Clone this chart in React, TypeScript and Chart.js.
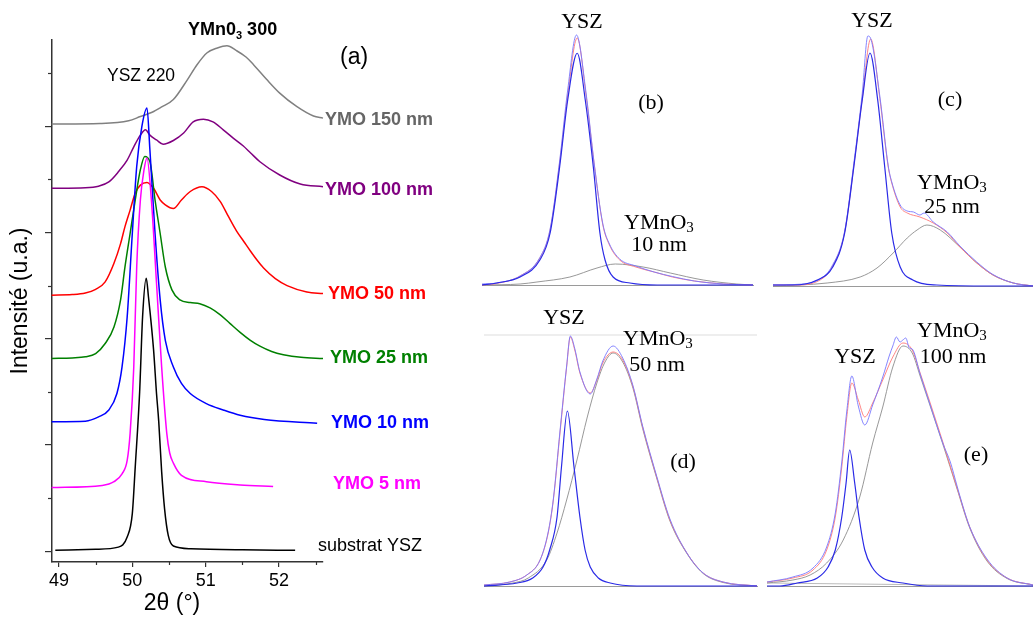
import React, { useEffect, useRef } from "react";
import { Chart, registerables } from "chart.js";
Chart.register(...registerables);

const SANS = "'Liberation Sans', Arial, sans-serif";
const SERIF = "'Liberation Serif', 'Times New Roman', serif";

// ---------- Panel (a) ticks ----------
const X_MAJOR = [49, 50, 51, 52];
const X_MINOR = [49.5, 50.5, 51.5, 52.5];
const Y_MAJOR = [0, 2, 4, 6, 8];
const Y_MINOR = [1, 3, 5, 7, 9];

// ---------- Panel (a) series (2θ, intensity u.a.) ----------
const SUB_X = [48.95, 49.5, 49.81, 49.93, 50.0, 50.04, 50.1, 50.14, 50.19, 50.22, 50.29, 50.33, 50.36, 50.4, 50.44, 50.49, 50.56, 50.8, 51.5, 52.22];
const SUB_Y = [0.02, 0.04, 0.08, 0.27, 0.71, 1.59, 3.0, 4.41, 5.14, 4.79, 3.79, 2.97, 2.45, 1.5, 0.8, 0.3, 0.1, 0.05, 0.03, 0.02];

const M5_X = [48.9, 49.59, 49.75, 49.86, 49.93, 49.97, 50.02, 50.06, 50.11, 50.16, 50.2, 50.26, 50.33, 50.4, 50.47, 50.51, 50.56, 50.67, 51.01, 51.47, 51.92];
const M5_Y = [1.2, 1.24, 1.31, 1.46, 1.71, 2.22, 3.47, 5.35, 6.61, 7.18, 7.4, 6.61, 5.05, 3.47, 2.22, 1.85, 1.66, 1.43, 1.31, 1.25, 1.22];

const M10_X = [48.9, 49.36, 49.54, 49.68, 49.79, 49.86, 49.93, 50.0, 50.06, 50.13, 50.2, 50.24, 50.31, 50.38, 50.45, 50.56, 50.67, 50.79, 51.01, 51.24, 51.47, 51.8, 52.52];
const M10_Y = [2.44, 2.45, 2.53, 2.66, 2.97, 3.47, 4.41, 5.98, 7.24, 7.99, 8.34, 7.55, 5.98, 4.73, 3.97, 3.47, 3.16, 2.97, 2.78, 2.66, 2.56, 2.48, 2.41];

const M25_X = [48.9, 49.18, 49.36, 49.5, 49.63, 49.75, 49.84, 49.9, 49.97, 50.04, 50.11, 50.17, 50.24, 50.31, 50.38, 50.45, 50.54, 50.65, 50.79, 50.92, 51.06, 51.2, 51.33, 51.47, 51.61, 51.74, 51.9, 52.06, 52.3, 52.6];
const M25_Y = [3.63, 3.64, 3.66, 3.72, 3.91, 4.22, 4.73, 5.35, 5.98, 6.61, 7.18, 7.43, 7.33, 6.61, 5.98, 5.35, 4.92, 4.73, 4.68, 4.66, 4.58, 4.45, 4.29, 4.12, 3.97, 3.86, 3.76, 3.7, 3.65, 3.63];

const M50_X = [48.9, 49.18, 49.36, 49.5, 49.63, 49.75, 49.84, 49.9, 49.97, 50.04, 50.11, 50.2, 50.29, 50.38, 50.45, 50.56, 50.67, 50.79, 50.95, 51.08, 51.2, 51.31, 51.42, 51.52, 51.61, 51.7, 51.79, 51.95, 52.11, 52.38, 52.6];
const M50_Y = [4.82, 4.83, 4.86, 4.93, 5.07, 5.42, 5.79, 6.11, 6.42, 6.74, 6.89, 6.94, 6.83, 6.61, 6.52, 6.45, 6.61, 6.77, 6.86, 6.77, 6.58, 6.3, 6.03, 5.83, 5.65, 5.48, 5.33, 5.13, 5.0, 4.88, 4.85];

const M100_X = [48.9, 49.36, 49.54, 49.68, 49.81, 49.93, 50.02, 50.11, 50.18, 50.24, 50.33, 50.42, 50.56, 50.7, 50.83, 50.97, 51.1, 51.24, 51.38, 51.51, 51.61, 51.74, 52.01, 52.29, 52.6];
const M100_Y = [6.83, 6.84, 6.87, 6.95, 7.14, 7.36, 7.61, 7.83, 7.93, 7.83, 7.74, 7.66, 7.73, 7.87, 8.08, 8.13, 8.08, 7.93, 7.77, 7.63, 7.5, 7.33, 7.08, 6.91, 6.86];

const M150_X = [48.9, 49.56, 49.95, 50.11, 50.27, 50.4, 50.56, 50.75, 50.88, 51.02, 51.16, 51.29, 51.42, 51.55, 51.65, 51.83, 52.01, 52.24, 52.47, 52.6];
const M150_Y = [8.04, 8.05, 8.1, 8.18, 8.26, 8.36, 8.5, 8.87, 9.15, 9.38, 9.47, 9.51, 9.42, 9.3, 9.16, 8.88, 8.62, 8.37, 8.19, 8.15];

// ---------- Panel (b): 10 nm ----------
const B_FIT_X = [48.9, 49.1, 49.42, 49.69, 49.83, 49.96, 50.07, 50.2, 50.31, 50.42, 50.51, 50.58, 50.69, 50.92, 51.29, 52.6];
const B_FIT_Y = [0, 0.8, 3.2, 10, 20.8, 47.2, 74, 92.7, 74, 47.2, 20.8, 10, 3.2, 0.8, 0, 0];
const B_TOT_X = [48.9, 49.1, 49.42, 49.69, 49.83, 49.96, 50.07, 50.2, 50.32, 50.43, 50.55, 50.64, 50.78, 51.0, 51.25, 51.5, 51.8, 52.2, 52.6];
const B_TOT_Y = [0, 0.6, 3.6, 10.8, 22, 48.8, 76, 98.8, 76, 48.8, 24, 16, 10, 7.2, 5.2, 3.2, 1.6, 0.4, 0];
const B_DAT_X = [48.9, 49.1, 49.42, 49.69, 49.83, 49.96, 50.07, 50.19, 50.32, 50.43, 50.55, 50.64, 50.78, 51.0, 51.25, 51.5, 51.8, 52.2, 52.6];
const B_DAT_Y = [0.4, 0.8, 3.6, 11, 22.4, 49.6, 78, 100, 77, 49, 24.4, 16.4, 10.4, 7.6, 5.2, 3.4, 1.6, 0.4, 0];
const B_YMN_X = [48.9, 49.42, 49.65, 50.1, 50.47, 50.72, 51.1, 51.47, 51.92, 52.38, 52.6];
const B_YMN_Y = [0, 0.4, 1.2, 3.2, 6.8, 8.4, 7.2, 4.8, 2, 0.4, 0];

// ---------- Panel (c): 25 nm ----------
const C_FIT_X = [48.9, 49.18, 49.53, 49.75, 49.92, 50.05, 50.17, 50.28, 50.39, 50.49, 50.59, 50.71, 50.89, 51.23, 51.99, 52.6];
const C_FIT_Y = [0.4, 0.4, 2.4, 7.6, 21.2, 47.6, 74.4, 93.2, 74.4, 47.6, 21.2, 7.6, 2.4, 0.4, 0, 0];
const C_TOT_X = [48.9, 49.21, 49.57, 49.74, 49.92, 50.05, 50.17, 50.29, 50.42, 50.54, 50.59, 50.71, 50.81, 50.99, 51.18, 51.38, 51.56, 51.8, 52.03, 52.32, 52.6];
const C_TOT_Y = [0.4, 0.4, 2.4, 7.6, 21.6, 48, 75, 98.8, 75, 47.6, 41.2, 31.6, 29.2, 27.6, 25.2, 21.2, 15.6, 9.2, 4.4, 1.2, 0];
const C_DAT_X = [48.9, 49.21, 49.57, 49.74, 49.92, 50.05, 50.17, 50.25, 50.29, 50.42, 50.54, 50.59, 50.71, 50.81, 50.9, 50.99, 51.05, 51.18, 51.38, 51.56, 51.8, 52.03, 52.32, 52.6];
const C_DAT_Y = [0.4, 0.6, 2.8, 8, 22, 49, 77, 100, 99, 76, 48, 41.6, 32.4, 30, 29.6, 28.4, 29.2, 25.6, 21.6, 16, 9.6, 4.6, 1.2, 0];
const C_YMN_X = [48.9, 49.67, 50.14, 50.38, 50.61, 50.81, 50.95, 51.09, 51.28, 51.56, 51.8, 52.03, 52.32, 52.6];
const C_YMN_Y = [0, 1.2, 3.6, 7.2, 13.2, 19.2, 22.4, 24.4, 22.4, 15.6, 9.2, 4.4, 1.2, 0];

// ---------- Panel (d): 50 nm ----------
const D_FIT_X = [48.9, 49.35, 49.56, 49.7, 49.79, 49.89, 49.95, 50.03, 50.12, 50.2, 50.27, 50.34, 50.45, 50.61, 50.97, 52.6];
const D_FIT_Y = [0, 1.2, 3.2, 7.6, 14.4, 27.6, 47.6, 70, 47.6, 27.6, 14.4, 7.6, 3.2, 1.2, 0, 0];
const D_TOT_X = [48.9, 49.25, 49.48, 49.66, 49.77, 49.84, 49.93, 50.02, 50.07, 50.13, 50.2, 50.34, 50.43, 50.51, 50.65, 50.78, 50.92, 51.05, 51.24, 51.42, 51.65, 51.87, 52.14, 52.6];
const D_TOT_Y = [0.4, 1.6, 4.4, 10.4, 21.2, 34.4, 61.2, 87.6, 99.6, 94.4, 85.2, 77.2, 82.4, 89.2, 93.6, 90.4, 79.6, 63.6, 43.6, 26.4, 13.2, 5.2, 1.6, 0];
const D_DAT_Y = [0.4, 1.6, 4.4, 10.4, 21.6, 34.8, 62, 88, 100, 95, 85.6, 76.8, 82.8, 90, 96, 91.2, 80, 64, 44, 26.8, 13.2, 5.2, 1.6, 0];
const D_YMN_X = [48.9, 49.29, 49.5, 49.75, 49.89, 50.02, 50.16, 50.3, 50.43, 50.54, 50.65, 50.78, 50.92, 51.05, 51.24, 51.42, 51.65, 51.87, 52.14, 52.6];
const D_YMN_Y = [0, 1.2, 3.2, 10.4, 21.2, 34.4, 50.4, 67.6, 81.2, 89.6, 93.2, 89.6, 79, 63, 43.2, 26, 13, 5, 1.4, 0];
const D_FRAME_X = [48.9, 52.6];
const D_FRAME_Y = [100.4, 100.4];

// ---------- Panel (e): 100 nm ----------
const E_FIT_X = [48.9, 49.08, 49.32, 49.6, 49.75, 49.85, 49.94, 50.0, 50.05, 50.12, 50.18, 50.26, 50.36, 50.51, 50.79, 51.13, 52.6];
const E_FIT_Y = [0, 0, 1.2, 3.2, 7.6, 14.4, 27.6, 41.2, 54.4, 41.2, 27.6, 14.4, 7.6, 3.2, 1.2, 0, 0];
const E_TOT_X = [48.9, 49.26, 49.54, 49.73, 49.85, 49.94, 50.01, 50.08, 50.17, 50.26, 50.37, 50.51, 50.65, 50.79, 50.92, 51.03, 51.17, 51.35, 51.54, 51.72, 51.96, 52.24, 52.6];
const E_TOT_Y = [1.6, 3.2, 6.4, 14.4, 27.6, 47.6, 67.6, 81.2, 74.4, 67.6, 73.2, 82.4, 91.6, 97.2, 94.4, 85.2, 73.2, 57.2, 39.6, 23.6, 10.4, 3.2, 0.4];
const E_DAT_X = [48.9, 49.26, 49.54, 49.73, 49.85, 49.94, 50.01, 50.08, 50.17, 50.26, 50.37, 50.51, 50.6, 50.65, 50.7, 50.75, 50.79, 50.83, 50.88, 50.92, 51.03, 51.17, 51.35, 51.45, 51.54, 51.62, 51.72, 51.96, 52.24, 52.6];
const E_DAT_Y = [1.6, 3.6, 7.2, 15.6, 29.2, 49.6, 70, 84, 72, 64.4, 72.4, 83.6, 92, 96, 99.6, 97.6, 98.4, 99.2, 95.2, 94.8, 84.8, 72.4, 56.8, 49.6, 40.4, 32.4, 23.6, 10.8, 3.2, 0.4];
const E_YMN_X = [48.9, 49.26, 49.5, 49.73, 49.96, 50.19, 50.37, 50.51, 50.65, 50.79, 50.92, 51.03, 51.17, 51.35, 51.54, 51.72, 51.96, 52.24, 52.6];
const E_YMN_Y = [1.2, 2.4, 4.4, 9.2, 18.4, 35.6, 57.2, 71.6, 87.6, 96, 93.2, 84, 72, 56.4, 39.2, 23.2, 10, 3, 0.4];
const E_BG_X = [48.9, 52.6];
const E_BG_Y = [1.2, 0];

// ---------- helpers ----------
const pts = (xs: number[], ys: number[]) => xs.map((x, i) => ({ x, y: ys[i] }));

type Part = { t: string; font: string; color?: string; dy?: number };
type Label = { x: number; y: number; align?: "left" | "center"; parts: Part[] };

function drawLabels(ctx: CanvasRenderingContext2D, labels: Label[]) {
  for (const l of labels) {
    ctx.save();
    ctx.textBaseline = "middle";
    ctx.textAlign = "left";
    let total = 0;
    for (const p of l.parts) {
      ctx.font = p.font;
      total += ctx.measureText(p.t).width;
    }
    let x = l.align === "center" ? l.x - total / 2 : l.x;
    for (const p of l.parts) {
      ctx.font = p.font;
      ctx.fillStyle = p.color || "#000";
      ctx.fillText(p.t, x, l.y + (p.dy || 0));
      x += ctx.measureText(p.t).width;
    }
    ctx.restore();
  }
}

const textPlugin = (labels: Label[]) => ({
  id: "texts",
  afterDraw(chart: any) {
    drawLabels(chart.ctx, labels);
  },
});

const minorTicksPlugin = {
  id: "minorTicks",
  afterDraw(chart: any) {
    const { ctx, chartArea } = chart;
    const xs = chart.scales.x;
    const ys = chart.scales.y;
    ctx.save();
    ctx.strokeStyle = "#333";
    ctx.lineWidth = 1.2;
    Y_MINOR.forEach((v) => {
      const py = Math.round(ys.getPixelForValue(v)) + 0.5;
      ctx.beginPath();
      ctx.moveTo(chartArea.left - 4, py);
      ctx.lineTo(chartArea.left, py);
      ctx.stroke();
    });
    X_MINOR.forEach((v) => {
      const px = Math.round(xs.getPixelForValue(v)) + 0.5;
      ctx.beginPath();
      ctx.moveTo(px, chartArea.bottom);
      ctx.lineTo(px, chartArea.bottom + 3);
      ctx.stroke();
    });
    ctx.restore();
  },
};

function ChartCanvas({ left, top, width, height, makeConfig }: any) {
  const ref = useRef<HTMLCanvasElement>(null);
  useEffect(() => {
    const chart = new Chart(ref.current as HTMLCanvasElement, makeConfig());
    return () => chart.destroy();
  }, []);
  return (
    <canvas
      ref={ref}
      width={width}
      height={height}
      style={{ position: "absolute", left, top, width, height }}
    />
  );
}

// ---------- Panel (a) config ----------
const SERIES_A = [
  { label: "substrat YSZ", xs: SUB_X, ys: SUB_Y, color: "#000000" },
  { label: "YMO 5 nm", xs: M5_X, ys: M5_Y, color: "#ff00ff" },
  { label: "YMO 10 nm", xs: M10_X, ys: M10_Y, color: "#0000ff" },
  { label: "YMO 25 nm", xs: M25_X, ys: M25_Y, color: "#008000" },
  { label: "YMO 50 nm", xs: M50_X, ys: M50_Y, color: "#ff0000" },
  { label: "YMO 100 nm", xs: M100_X, ys: M100_Y, color: "#800080" },
  { label: "YMO 150 nm", xs: M150_X, ys: M150_Y, color: "#808080" },
];

const bold18 = `bold 18px ${SANS}`;
const LABELS_A: Label[] = [
  { x: 325, y: 120, parts: [{ t: "YMO 150 nm", font: bold18, color: "#666666" }] },
  { x: 325, y: 190, parts: [{ t: "YMO 100 nm", font: bold18, color: "#800080" }] },
  { x: 328, y: 294, parts: [{ t: "YMO 50 nm", font: bold18, color: "#ff0000" }] },
  { x: 330, y: 358, parts: [{ t: "YMO 25 nm", font: bold18, color: "#008000" }] },
  { x: 331, y: 423, parts: [{ t: "YMO 10 nm", font: bold18, color: "#0000ff" }] },
  { x: 333, y: 484, parts: [{ t: "YMO 5 nm", font: bold18, color: "#ff00ff" }] },
  { x: 318, y: 546, parts: [{ t: "substrat YSZ", font: `18px ${SANS}` }] },
  { x: 107, y: 76, parts: [{ t: "YSZ 220", font: `17.5px ${SANS}` }] },
  {
    x: 188,
    y: 30,
    parts: [
      { t: "YMn0", font: bold18 },
      { t: "3", font: `bold 11px ${SANS}`, dy: 6 },
      { t: " 300", font: bold18 },
    ],
  },
  { x: 340, y: 58, parts: [{ t: "(a)", font: `23px ${SANS}` }] },
  { x: 172, y: 604, align: "center", parts: [{ t: "2θ (°)", font: `23px ${SANS}` }] },
];

const makeConfigA = () => ({
  type: "line",
  data: {
    datasets: SERIES_A.map((s) => ({
      label: s.label,
      data: pts(s.xs, s.ys),
      borderColor: s.color,
      borderWidth: 1.5,
      pointRadius: 0,
      fill: false,
      cubicInterpolationMode: "monotone",
      clip: false,
    })),
  },
  options: {
    responsive: false,
    animation: false,
    devicePixelRatio: 1,
    layout: { padding: { top: 40, right: 147, left: 0, bottom: 0 } },
    plugins: { legend: { display: false }, tooltip: { enabled: false } },
    scales: {
      x: {
        type: "linear",
        min: 48.905,
        max: 52.6,
        afterBuildTicks: (s: any) => {
          s.ticks = X_MAJOR.map((v) => ({ value: v }));
        },
        afterFit: (s: any) => {
          s.height = 57;
        },
        ticks: {
          font: { family: SANS, size: 18 },
          color: "#000",
          padding: 3,
          maxRotation: 0,
          autoSkip: false,
          callback: (v: any) => String(v),
        },
        grid: { drawOnChartArea: false, tickLength: 5, color: "#333", lineWidth: 1.2 },
        border: { color: "#333", width: 1.5 },
      },
      y: {
        type: "linear",
        min: -0.2,
        max: 9.62,
        afterBuildTicks: (s: any) => {
          s.ticks = Y_MAJOR.map((v) => ({ value: v }));
        },
        afterFit: (s: any) => {
          s.width = 52;
        },
        ticks: { display: false },
        grid: { drawOnChartArea: false, tickLength: 7, color: "#333", lineWidth: 1.2 },
        border: { color: "#333", width: 1.5 },
        title: {
          display: true,
          text: "Intensité (u.a.)",
          color: "#000",
          font: { family: SANS, size: 23 },
          padding: { top: 7, bottom: 0 },
        },
      },
    },
  },
  plugins: [minorTicksPlugin, textPlugin(LABELS_A)],
});

// ---------- small panels ----------
const serif22 = `22px ${SERIF}`;
const ymno = (x: number, y: number): Label => ({
  x,
  y,
  parts: [
    { t: "YMnO", font: serif22 },
    { t: "3", font: `15px ${SERIF}`, dy: 5 },
  ],
});
const ctext = (x: number, y: number, t: string): Label => ({
  x,
  y,
  align: "center",
  parts: [{ t, font: serif22 }],
});

type Extra = { xs: number[]; ys: number[]; color: string; width: number };
type Panel = {
  left: number;
  top: number;
  width: number;
  height: number;
  pad: { left: number; right: number; top: number; bottom: number };
  fit: [number[], number[]];
  dat: [number[], number[]];
  tot: [number[], number[]];
  ymn: [number[], number[]];
  extras: Extra[];
  labels: Label[];
};

const PANELS: Panel[] = [
  {
    left: 470, top: 0, width: 290, height: 300,
    pad: { left: 12, right: 7, top: 35, bottom: 15 },
    fit: [B_FIT_X, B_FIT_Y], dat: [B_DAT_X, B_DAT_Y], tot: [B_TOT_X, B_TOT_Y], ymn: [B_YMN_X, B_YMN_Y],
    extras: [],
    labels: [ctext(112, 22, "YSZ"), ctext(181, 103, "(b)"), ymno(154, 223), ctext(189, 245, "10 nm")],
  },
  {
    left: 760, top: 0, width: 273, height: 300,
    pad: { left: 13, right: 0, top: 36, bottom: 14 },
    fit: [C_FIT_X, C_FIT_Y], dat: [C_DAT_X, C_DAT_Y], tot: [C_TOT_X, C_TOT_Y], ymn: [C_YMN_X, C_YMN_Y],
    extras: [],
    labels: [ctext(112, 21, "YSZ"), ctext(190, 100, "(c)"), ymno(157, 183), ctext(192, 207, "25 nm")],
  },
  {
    left: 470, top: 300, width: 290, height: 319,
    pad: { left: 14, right: 3, top: 36, bottom: 33 },
    fit: [D_FIT_X, D_FIT_Y], dat: [D_TOT_X, D_DAT_Y], tot: [D_TOT_X, D_TOT_Y], ymn: [D_YMN_X, D_YMN_Y],
    extras: [{ xs: D_FRAME_X, ys: D_FRAME_Y, color: "#dddddd", width: 1 }],
    labels: [ctext(94, 18, "YSZ"), ymno(153, 39), ctext(187, 65, "50 nm"), ctext(213, 162, "(d)")],
  },
  {
    left: 760, top: 300, width: 273, height: 319,
    pad: { left: 7, right: 0, top: 36, bottom: 33 },
    fit: [E_FIT_X, E_FIT_Y], dat: [E_DAT_X, E_DAT_Y], tot: [E_TOT_X, E_TOT_Y], ymn: [E_YMN_X, E_YMN_Y],
    extras: [{ xs: E_BG_X, ys: E_BG_Y, color: "#aaaaaa", width: 0.8 }],
    labels: [ctext(95, 57, "YSZ"), ymno(157, 31), ctext(193, 57, "100 nm"), ctext(216, 155, "(e)")],
  },
];

const lineDs = (label: string, xs: number[], ys: number[], color: string, width: number) => ({
  label,
  data: pts(xs, ys),
  borderColor: color,
  borderWidth: width,
  pointRadius: 0,
  fill: false,
  cubicInterpolationMode: "monotone",
  clip: false,
});

const makePanelConfig = (p: Panel) => () => ({
  type: "line",
  data: {
    datasets: [
      lineDs("YSZ fit", p.fit[0], p.fit[1], "#2a2ae6", 1.2),
      lineDs("data", p.dat[0], p.dat[1], "rgba(120,120,255,0.9)", 1),
      lineDs("total fit", p.tot[0], p.tot[1], "rgba(255,120,120,0.9)", 1),
      lineDs("YMnO3 fit", p.ymn[0], p.ymn[1], "#8c8c8c", 0.9),
      ...p.extras.map((e, i) => lineDs("extra" + i, e.xs, e.ys, e.color, e.width)),
    ],
  },
  options: {
    responsive: false,
    animation: false,
    devicePixelRatio: 1,
    layout: { padding: p.pad },
    plugins: { legend: { display: false }, tooltip: { enabled: false } },
    scales: {
      x: {
        type: "linear",
        min: 48.9,
        max: 52.6,
        ticks: { display: false },
        grid: { display: false },
        border: { display: true, color: "#9a9a9a", width: 1 },
        afterFit: (s: any) => {
          s.height = 0;
        },
      },
      y: { type: "linear", min: 0, max: 100, display: false },
    },
  },
  plugins: [textPlugin(p.labels)],
});

export default function App() {
  return (
    <div
      style={{
        position: "absolute",
        left: 0,
        top: 0,
        width: 1033,
        height: 619,
        background: "#ffffff",
        overflow: "hidden",
      }}
    >
      <ChartCanvas left={0} top={0} width={470} height={619} makeConfig={makeConfigA} />
      {PANELS.map((p, i) => (
        <ChartCanvas
          key={i}
          left={p.left}
          top={p.top}
          width={p.width}
          height={p.height}
          makeConfig={makePanelConfig(p)}
        />
      ))}
    </div>
  );
}
